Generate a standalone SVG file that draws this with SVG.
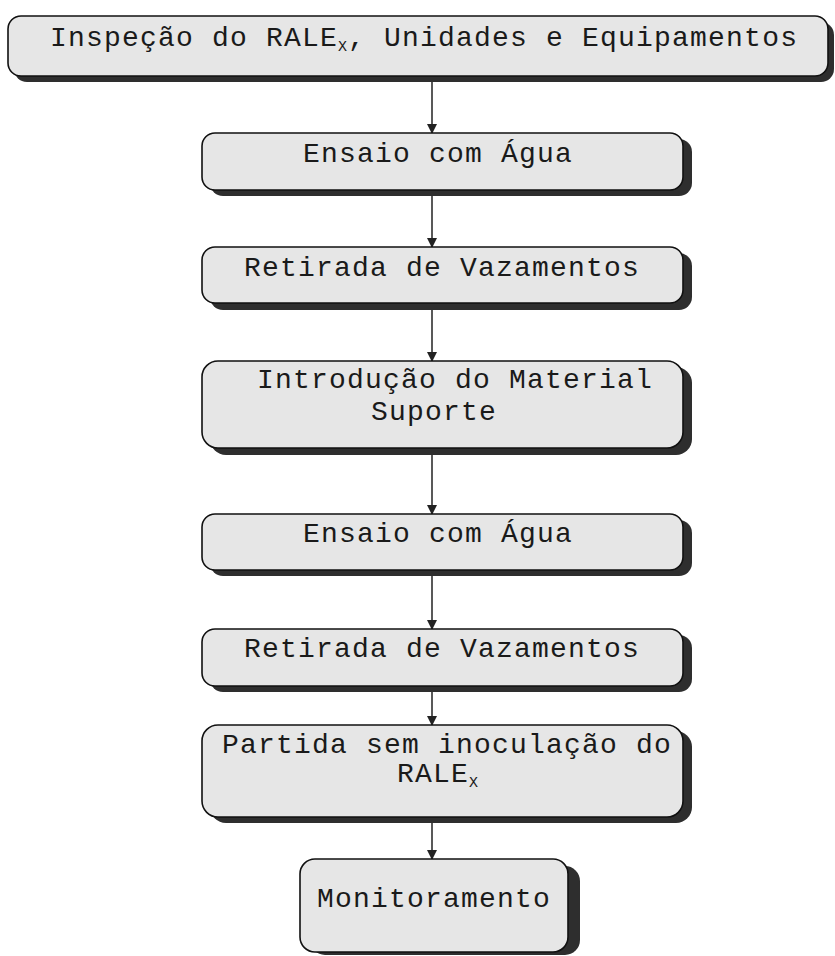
<svg xmlns="http://www.w3.org/2000/svg" width="835" height="956" viewBox="0 0 835 956">
<style>
.sh{fill:#2e2e2e}
.bx{fill:#e6e6e6;stroke:#111;stroke-width:1.6}
.t{font-family:"Courier New","Courier","Nimbus Mono PS","FreeMono","Liberation Mono",monospace;font-size:28px;fill:#1a1a1a;letter-spacing:1.2px;text-anchor:middle}
.c{stroke:#222;stroke-width:1.5;fill:none}
</style>
<defs>
<marker id="ah" markerWidth="10" markerHeight="10" refX="9" refY="5" orient="auto" markerUnits="userSpaceOnUse">
<path d="M0,0 L10,5 L0,10 Z" fill="#222"/>
</marker>
</defs>
<g id="connectors">
<line class="c" x1="432" y1="80" x2="432" y2="133" marker-end="url(#ah)"/>
<line class="c" x1="432" y1="196" x2="432" y2="247" marker-end="url(#ah)"/>
<line class="c" x1="432" y1="310" x2="432" y2="361" marker-end="url(#ah)"/>
<line class="c" x1="432" y1="455" x2="432" y2="514" marker-end="url(#ah)"/>
<line class="c" x1="432" y1="576" x2="432" y2="629" marker-end="url(#ah)"/>
<line class="c" x1="432" y1="692" x2="432" y2="725" marker-end="url(#ah)"/>
<line class="c" x1="432" y1="823" x2="432" y2="859" marker-end="url(#ah)"/>
</g>
<g id="n1">
<rect class="sh" x="14" y="22" width="820" height="60" rx="13"/>
<rect class="bx" x="8" y="16" width="820" height="60" rx="13"/>
<text class="t" x="50" y="46" style="text-anchor:start">Inspeção do RALE<tspan font-size="15" dy="5" letter-spacing="1">X</tspan><tspan dy="-5">, Unidades e Equipamentos</tspan></text>
</g>
<g id="n2">
<rect class="sh" x="210" y="139" width="482" height="57" rx="13"/>
<rect class="bx" x="202" y="133" width="481" height="57" rx="13"/>
<text class="t" x="438" y="162">Ensaio com Água</text>
</g>
<g id="n3">
<rect class="sh" x="210" y="253" width="482" height="57" rx="13"/>
<rect class="bx" x="202" y="247" width="481" height="56" rx="13"/>
<text class="t" x="442" y="276">Retirada de Vazamentos</text>
</g>
<g id="n4">
<rect class="sh" x="210" y="367" width="482" height="88" rx="16"/>
<rect class="bx" x="202" y="361" width="481" height="87" rx="16"/>
<text class="t" x="455" y="388">Introdução do Material</text>
<text class="t" x="434" y="420">Suporte</text>
</g>
<g id="n5">
<rect class="sh" x="210" y="520" width="482" height="56" rx="13"/>
<rect class="bx" x="202" y="514" width="481" height="56" rx="13"/>
<text class="t" x="438" y="542">Ensaio com Água</text>
</g>
<g id="n6">
<rect class="sh" x="210" y="635" width="482" height="57" rx="13"/>
<rect class="bx" x="202" y="629" width="481" height="57" rx="13"/>
<text class="t" x="442" y="657">Retirada de Vazamentos</text>
</g>
<g id="n7">
<rect class="sh" x="210" y="731" width="482" height="92" rx="16"/>
<rect class="bx" x="202" y="725" width="481" height="92" rx="16"/>
<text class="t" x="447" y="753">Partida sem inoculação do</text>
<text class="t" x="438" y="782">RALE<tspan font-size="15" dy="5" letter-spacing="1">X</tspan></text>
</g>
<g id="n8">
<rect class="sh" x="310" y="866" width="270" height="89" rx="15"/>
<rect class="bx" x="300" y="859" width="268" height="93" rx="15"/>
<text class="t" x="434" y="907">Monitoramento</text>
</g>
</svg>
